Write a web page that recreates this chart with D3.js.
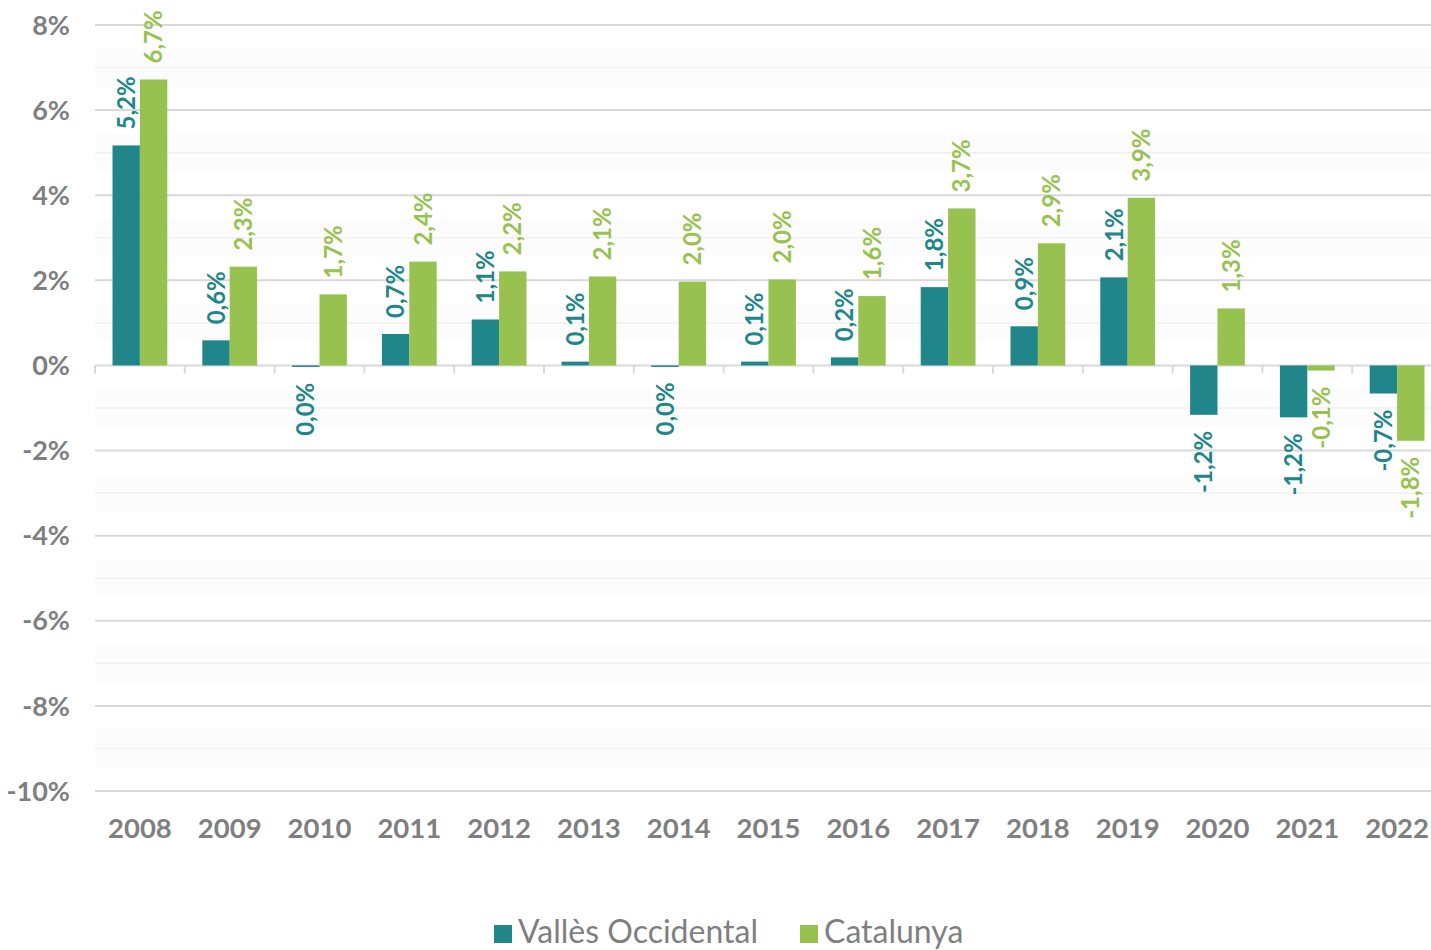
<!DOCTYPE html>
<html>
<head>
<meta charset="utf-8">
<title>Vallès Occidental vs Catalunya</title>
<script src="https://d3js.org/d3.v7.min.js"></script>
<style>
  body { margin: 0; background: #fff; overflow: hidden; }
  text { font-family: Lato, "Open Sans", sans-serif; }
</style>
</head>
<body>
<script>
// data
const years = ["2008","2009","2010","2011","2012","2013","2014","2015","2016","2017","2018","2019","2020","2021","2022"];
const series = ["Vallès Occidental", "Catalunya"];
const valles = [5.17, 0.59, -0.03, 0.74, 1.08, 0.09, -0.02, 0.09, 0.19, 1.84, 0.92, 2.07, -1.16, -1.22, -0.66];
const catalunya = [6.72, 2.32, 1.67, 2.44, 2.21, 2.09, 1.97, 2.02, 1.63, 3.69, 2.87, 3.94, 1.34, -0.12, -1.77];
const yTicks = [-10, -8, -6, -4, -2, 0, 2, 4, 6, 8];
const yMinor = [-9, -7, -5, -3, -1, 1, 3, 5, 7];

(function() {
  const colors = { "Vallès Occidental": "#21868a", "Catalunya": "#97c24f" };
  const width = 1431, height = 950;
  const plotLeft = 95, plotRight = 1431, plotTop = 25, plotBottom = 791;

  const rows = years.map((yr, i) => ({ year: yr, values: [
    { key: series[0], v: valles[i] },
    { key: series[1], v: catalunya[i] }
  ]}));

  const svg = d3.select("body").append("svg")
    .attr("width", width)
    .attr("height", height);

  const y = d3.scaleLinear().domain([-10, 8]).range([plotBottom, plotTop]);
  // the plot runs a little past the right edge of the picture
  const x0 = d3.scaleBand().domain(years).range([plotLeft, 1442]);
  const groupW = x0.bandwidth() * 0.61;
  const x1 = d3.scaleBand().domain(series).range([0, groupW]);

  // faint minor bands + lines
  const grid = svg.append("g");
  grid.selectAll("rect.minor").data(yMinor).enter().append("rect")
    .attr("x", plotLeft).attr("width", plotRight - plotLeft)
    .attr("y", d => y(d) - 19).attr("height", 38)
    .attr("fill", "#fcfcfc");
  grid.selectAll("line.minor").data(yMinor).enter().append("line")
    .attr("x1", plotLeft).attr("x2", plotRight)
    .attr("y1", d => y(d)).attr("y2", d => y(d))
    .attr("stroke", "#f0f0f0").attr("stroke-width", 1.5);
  grid.selectAll("line.major").data(yTicks).enter().append("line")
    .attr("x1", plotLeft).attr("x2", plotRight)
    .attr("y1", d => y(d)).attr("y2", d => y(d))
    .attr("stroke", "#d9d9d9").attr("stroke-width", 2);

  // y tick labels
  svg.append("g").selectAll("text").data(yTicks).enter().append("text")
    .attr("x", 70).attr("y", d => y(d))
    .attr("dy", "0.36em")
    .attr("text-anchor", "end")
    .attr("font-size", 27).attr("font-weight", 700)
    .attr("fill", "#7f7f7f")
    .text(d => d + "%");

  // tick marks on zero line
  svg.append("g").selectAll("line").data(years).enter().append("line")
    .attr("x1", d => x0(d)).attr("x2", d => x0(d))
    .attr("y1", y(0)).attr("y2", y(0) + 8)
    .attr("stroke", "#d9d9d9").attr("stroke-width", 2);

  // bars
  const fmt = v => (Math.round(v * 10) / 10).toFixed(1).replace(".", ",") + "%";
  const group = svg.append("g").selectAll("g").data(rows).enter().append("g")
    .attr("transform", d => `translate(${x0(d.year) + (x0.bandwidth() - groupW) / 2},0)`);

  group.selectAll("rect").data(d => d.values).enter().append("rect")
    .attr("x", d => x1(d.key))
    .attr("width", x1.bandwidth())
    .attr("y", d => Math.min(y(d.v), y(0)))
    .attr("height", d => Math.max(Math.abs(y(d.v) - y(0)), 1.5))
    .attr("fill", d => colors[d.key]);

  group.selectAll("text").data(d => d.values).enter().append("text")
    .attr("transform", d => {
      const cx = x1(d.key) + x1.bandwidth() / 2;
      const cy = d.v >= 0 ? y(d.v) - 16 : y(d.v) + 16;
      return `translate(${cx},${cy}) rotate(-90)`;
    })
    .attr("dy", "0.36em")
    .attr("text-anchor", d => d.v >= 0 ? "start" : "end")
    .attr("font-size", 24).attr("font-weight", 700)
    .attr("fill", d => colors[d.key])
    .text(d => fmt(d.v));

  // x labels
  svg.append("g").selectAll("text").data(years).enter().append("text")
    .attr("x", d => x0(d) + x0.bandwidth() / 2)
    .attr("y", 838)
    .attr("text-anchor", "middle")
    .attr("font-size", 27.5).attr("font-weight", 700)
    .attr("fill", "#7f7f7f")
    .text(d => d);

  // legend
  const legend = svg.append("g");
  const legendX = [494, 800];
  series.forEach((s, i) => {
    legend.append("rect")
      .attr("x", legendX[i]).attr("y", 925)
      .attr("width", 18).attr("height", 18)
      .attr("fill", colors[s]);
    legend.append("text")
      .attr("x", legendX[i] + 24).attr("y", 943)
      .attr("font-size", 32)
      .attr("fill", "#7f7f7f")
      .text(s);
  });
})();
</script>
</body>
</html>
